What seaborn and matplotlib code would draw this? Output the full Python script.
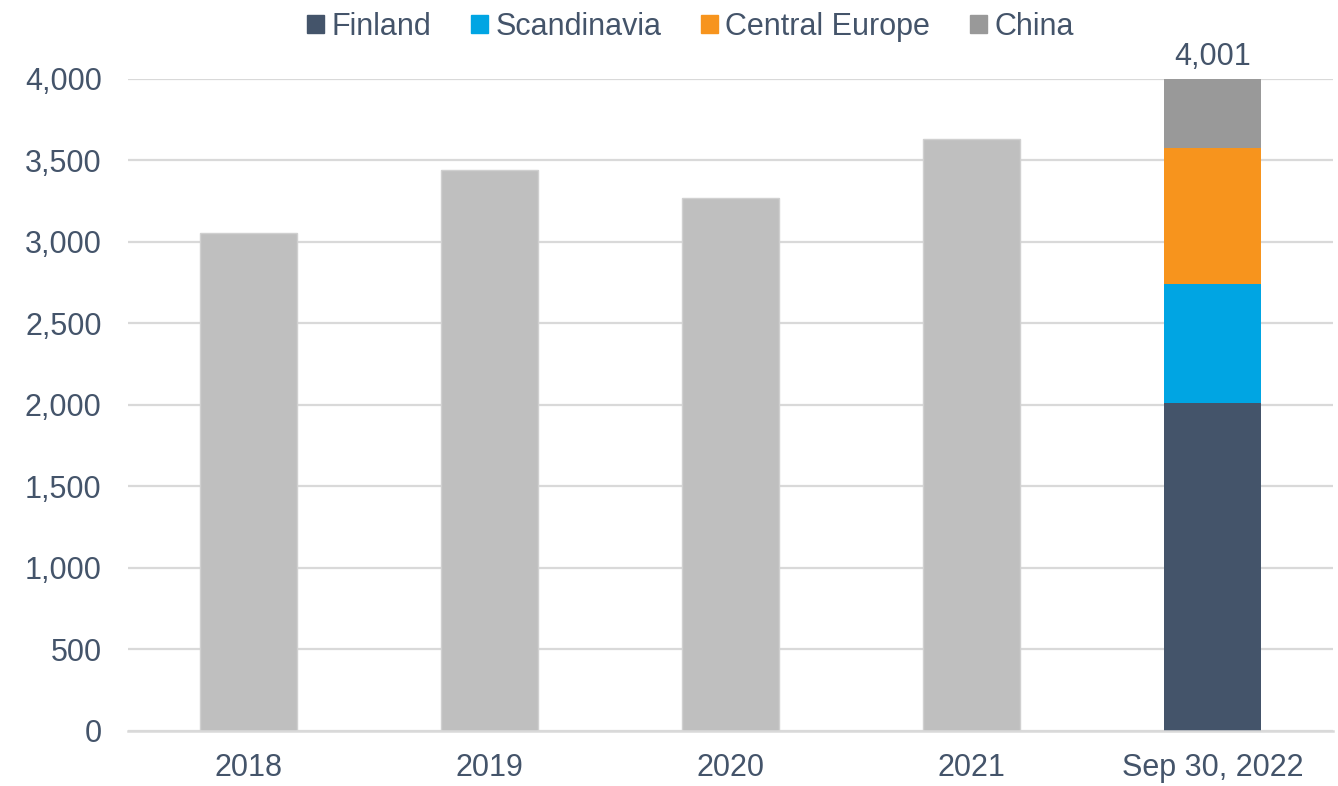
import matplotlib
matplotlib.use("Agg")
import matplotlib.pyplot as plt
import matplotlib.patches as mpatches
from matplotlib.ticker import FuncFormatter
import seaborn as sns
import pandas as pd

categories = ["2018", "2019", "2020", "2021", "Sep 30, 2022"]
history_years = ["2018", "2019", "2020", "2021"]
history_values = [3053, 3439, 3268, 3627]

regions = ["Finland", "Scandinavia", "Central Europe", "China"]
region_values = [2012, 731, 831, 427]
region_colors = ["#44546A", "#00A5E3", "#F7941D", "#999999"]

total_label = "4,001"

text_color = "#44546A"
grid_color = "#D9D9D9"

sns.set_style("white")
plt.rcParams["font.family"] = ["Liberation Sans", "DejaVu Sans"]

fig = plt.figure(figsize=(13.38, 7.86), dpi=100)
ax = fig.add_axes([0.0957, 0.070, 0.9006, 0.830])

hist = pd.DataFrame({"category": history_years, "value": history_values})
sns.barplot(data=hist, x="category", y="value", order=categories,
            color="#BFBFBF", width=0.4, saturation=1,
            edgecolor="#D0D0D0", linewidth=1, ax=ax, zorder=3)

# stacked bar for the last period, drawn tallest first
cum = pd.Series(region_values).cumsum().tolist()
for name, top, col in reversed(list(zip(regions, cum, region_colors))):
    sns.barplot(x=[categories[-1]], y=[top], order=categories,
                color=col, width=0.4, saturation=1, linewidth=0,
                ax=ax, zorder=3)

ax.text(4, cum[-1] + 40, total_label, ha="center", va="bottom",
        fontsize=22, color=text_color)

ax.set_xlim(-0.5, 4.5)
ax.set_ylim(0, 4000)
ax.set_yticks(range(0, 4001, 500))
ax.yaxis.set_major_formatter(FuncFormatter(lambda v, p: f"{int(v):,}"))
ax.set_xlabel("")
ax.set_ylabel("")

ax.yaxis.grid(True, color=grid_color, linewidth=1.6)
ax.set_axisbelow(True)
for s in ["top", "right", "left"]:
    ax.spines[s].set_visible(False)
ax.spines["bottom"].set_color(grid_color)
ax.spines["bottom"].set_linewidth(1.8)
ax.spines["bottom"].set_zorder(4)

ax.tick_params(axis="y", length=0, pad=19, labelsize=22, labelcolor=text_color)
ax.tick_params(axis="x", length=0, pad=16, labelsize=22, labelcolor=text_color)

handles = [mpatches.Patch(color=c, label=n) for n, c in zip(regions, region_colors)]
leg = fig.legend(handles=handles, loc="upper center", bbox_to_anchor=(0.516, 1.02),
                 ncol=4, frameon=False, fontsize=22, handlelength=0.55,
                 handleheight=0.55, handletextpad=0.25, columnspacing=1.3)
for t in leg.get_texts():
    t.set_color(text_color)

fig.savefig("out.png", dpi=100)
